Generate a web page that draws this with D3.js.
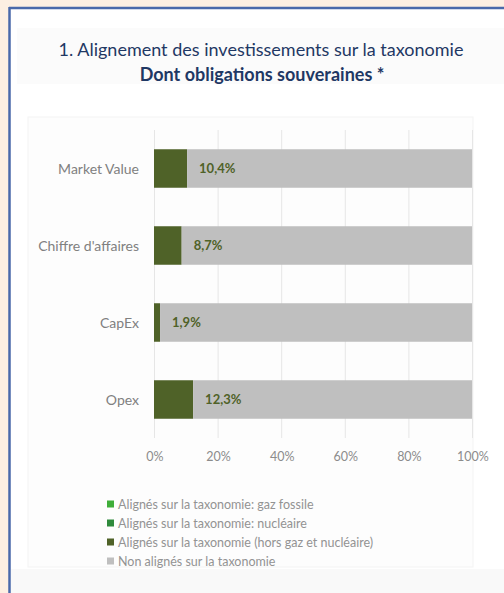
<!DOCTYPE html>
<html>
<head>
<meta charset="utf-8">
<style>
  html, body { margin: 0; padding: 0; background: #fdefe2; }
  svg { display: block; font-family: Lato, "Open Sans", sans-serif; }
</style>
</head>
<body>
<script src="https://d3js.org/d3.v7.min.js"></script>
<script>

  // categories, top to bottom
  var categories = ["Market Value", "Chiffre d'affaires", "CapEx", "Opex"];

  // series values (in %)
  var gazFossile = [0, 0, 0, 0];
  var nucleaire = [0, 0, 0, 0];
  var horsGazNucleaire = [10.4, 8.7, 1.9, 12.3];
  var nonAlignes = [89.6, 91.3, 98.1, 87.7];

  var seriesNames = [
    "Alignés sur la taxonomie: gaz fossile",
    "Alignés sur la taxonomie: nucléaire",
    "Alignés sur la taxonomie (hors gaz et nucléaire)",
    "Non alignés sur la taxonomie"
  ];
  var seriesColors = ["#3fae3a", "#2f8a3c", "#4f6228", "#bfbfbf"];

  var xTicks = [0, 20, 40, 60, 80, 100];

  var width = 504;
  var height = 593;

  var svg = d3.select("body")
      .append("svg")
      .attr("width", width)
      .attr("height", height);

  // white panel with blue top/left border
  svg.append("rect")
      .attr("x", 9).attr("y", 7)
      .attr("width", width).attr("height", height)
      .attr("fill", "#ffffff");
  svg.append("line")
      .attr("x1", 9).attr("x2", width)
      .attr("y1", 8).attr("y2", 8)
      .attr("stroke", "#4a69aa").attr("stroke-width", 2.5);
  svg.append("line")
      .attr("x1", 9.5).attr("x2", 9.5)
      .attr("y1", 7).attr("y2", height)
      .attr("stroke", "#4a69aa").attr("stroke-width", 2.5);

  // faint boxes behind title and chart
  svg.append("rect")
      .attr("x", 17).attr("y", 28).attr("width", 487).attr("height", 56)
      .attr("fill", "#fbfbfb");
  svg.append("rect")
      .attr("x", 28).attr("y", 117).attr("width", 445).attr("height", 450)
      .attr("fill", "#fdfdfd").attr("stroke", "#f3f3f3");
  svg.append("rect")
      .attr("x", 11).attr("y", 569).attr("width", width).attr("height", 30)
      .attr("fill", "#f9f9f9");

  // title
  svg.append("text")
      .attr("x", 261).attr("y", 56)
      .attr("text-anchor", "middle")
      .attr("fill", "#1f3864")
      .style("font-size", "18px")
      .text("1. Alignement des investissements sur la taxonomie");
  svg.append("text")
      .attr("x", 262).attr("y", 81)
      .attr("text-anchor", "middle")
      .attr("fill", "#1f3864")
      .style("font-size", "18px")
      .style("font-weight", "bold")
      .text("Dont obligations souveraines *");

  var x = d3.scaleLinear().domain([0, 100]).range([154, 472]);
  var y = d3.scaleBand().domain(categories).range([130, 438])
      .paddingInner(0.5).paddingOuter(0.25);

  // gridlines
  svg.selectAll(".grid")
      .data(xTicks)
      .enter()
        .append("line")
        .attr("class", "grid")
        .attr("x1", function (d) { return x(d) + 0.5; })
        .attr("x2", function (d) { return x(d) + 0.5; })
        .attr("y1", 130).attr("y2", 438)
        .attr("stroke", "#e6e6e6");

  // stacked bars
  var rows = categories.map(function (c, i) {
    return {cat: c, vals: [gazFossile[i], nucleaire[i], horsGazNucleaire[i], nonAlignes[i]]};
  });

  rows.forEach(function (row) {
    var start = 0;
    row.vals.forEach(function (v, k) {
      if (v > 0) {
        svg.append("rect")
            .attr("x", x(start))
            .attr("y", y(row.cat))
            .attr("width", x(start + v) - x(start))
            .attr("height", y.bandwidth())
            .attr("fill", seriesColors[k]);
      }
      start += v;
    });
  });

  // value labels
  svg.selectAll(".val")
      .data(rows)
      .enter()
        .append("text")
        .attr("class", "val")
        .attr("x", function (d) { return x(d.vals[0] + d.vals[1] + d.vals[2]) + 12; })
        .attr("y", function (d) { return y(d.cat) + y.bandwidth() / 2 + 4.5; })
        .attr("fill", "#4f6228")
        .style("font-size", "13px")
        .style("font-weight", "bold")
        .text(function (d) { return d3.format(".1f")(d.vals[2]).replace(".", ",") + "%"; });

  // category axis labels
  svg.selectAll(".cat")
      .data(categories)
      .enter()
        .append("text")
        .attr("class", "cat")
        .attr("x", 139)
        .attr("y", function (d) { return y(d) + y.bandwidth() / 2 + 5; })
        .attr("text-anchor", "end")
        .attr("fill", "#808080")
        .style("font-size", "14px")
        .text(function (d) { return d; });

  // x axis tick labels
  svg.selectAll(".tick-label")
      .data(xTicks)
      .enter()
        .append("text")
        .attr("class", "tick-label")
        .attr("x", function (d) { return x(d) + 1; })
        .attr("y", 461)
        .attr("text-anchor", "middle")
        .attr("fill", "#8c8c8c")
        .style("font-size", "12.5px")
        .text(function (d) { return d + "%"; });

  // legend
  var legend = svg.selectAll(".legend")
      .data(seriesNames)
      .enter()
        .append("g")
        .attr("class", "legend")
        .attr("transform", function (d, i) {
          return "translate(107," + (504 + i * 19) + ")";
        });

  legend.append("rect")
      .attr("x", 0).attr("y", -3.5)
      .attr("width", 7).attr("height", 7)
      .attr("fill", function (d, i) { return seriesColors[i]; });

  legend.append("text")
      .attr("x", 11).attr("y", 4.5)
      .attr("fill", "#939393")
      .style("font-size", "12.5px")
      .text(function (d) { return d; });

</script>
</body>
</html>
